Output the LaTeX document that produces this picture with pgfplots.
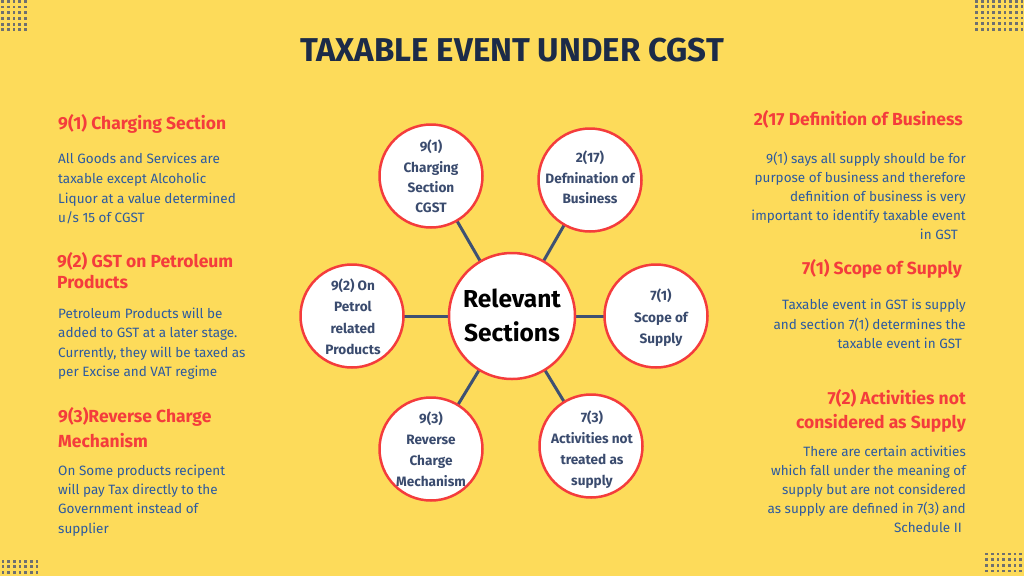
\documentclass[border=0pt]{standalone}
\usepackage{fontspec}
\setmainfont{Fira Sans}
\usepackage{pgfplots}
\pgfplotsset{compat=1.18}
\definecolor{bg}{HTML}{FDDB5A}
\definecolor{ttl}{HTML}{1C2B48}
\definecolor{hred}{HTML}{F43C3C}
\definecolor{bblue}{HTML}{2C5AA0}
\definecolor{ctext}{HTML}{3A4B6E}
\definecolor{spoke}{HTML}{3E5173}
\definecolor{dotc}{HTML}{6E7070}
\newcommand{\Hf}{\fontsize{17.5}{20}\selectfont\bfseries\color{hred}}
\newcommand{\Bf}{\fontsize{13.5}{20}\selectfont\color{bblue}}
\newcommand{\Cf}{\fontsize{13.6}{20}\selectfont\bfseries\color{ctext}}
\newcommand{\Rf}{\fontsize{24.5}{28}\selectfont\bfseries\color{black}}
\newcommand{\Lt}[4]{\node[anchor=base west,inner sep=0pt,font=#1] at (axis cs:#2,#3) {#4};}
\newcommand{\Rt}[4]{\node[anchor=base east,inner sep=0pt,font=#1] at (axis cs:#2,#3) {#4};}
\newcommand{\Ct}[4]{\node[anchor=base,inner sep=0pt,font=#1] at (axis cs:#2,#3) {#4};}
% circle line: coordinate name, downward shift (px), text
\newcommand{\Cl}[4][\Cf]{\node[anchor=base,inner sep=0pt,font=#1] at ([yshift=-#3pt]#2) {#4};}
\begin{document}
\begin{tikzpicture}
\begin{axis}[width=1024pt,height=576pt,scale only axis,
  xmin=0,xmax=1024,ymin=0,ymax=576,y dir=reverse,hide axis,clip=false]
\fill[bg] (axis cs:0,0) rectangle (axis cs:1024,576);
% corner dots
\addplot[only marks,mark=square*,mark size=0.9pt,color=dotc] coordinates {
(2.3,1)(8,1)(13.7,1)(19.3,1)(25,1)
(2.3,6.7)(8,6.7)(13.7,6.7)(19.3,6.7)(25,6.7)
(2.3,12.4)(8,12.4)(13.7,12.4)(19.3,12.4)(25,12.4)
(2.3,18.1)(8,18.1)(13.7,18.1)(19.3,18.1)(25,18.1)
(2.3,23.8)(8,23.8)(13.7,23.8)(19.3,23.8)(25,23.8)
(2.3,29.5)(8,29.5)(13.7,29.5)(19.3,29.5)(25,29.5)
(976.3,1)(982,1)(987.7,1)(993.3,1)(999,1)(1004.7,1)(1010.3,1)(1016,1)(1021.7,1)
(976.3,6.5)(982,6.5)(987.7,6.5)(993.3,6.5)(999,6.5)(1004.7,6.5)(1010.3,6.5)(1016,6.5)(1021.7,6.5)
(976.3,12)(982,12)(987.7,12)(993.3,12)(999,12)(1004.7,12)(1010.3,12)(1016,12)(1021.7,12)
(976.3,17.7)(982,17.7)(987.7,17.7)(993.3,17.7)(999,17.7)(1004.7,17.7)(1010.3,17.7)(1016,17.7)(1021.7,17.7)
(976.3,23.3)(982,23.3)(987.7,23.3)(993.3,23.3)(999,23.3)(1004.7,23.3)(1010.3,23.3)(1016,23.3)(1021.7,23.3)
(976.3,29)(982,29)(987.7,29)(993.3,29)(999,29)(1004.7,29)(1010.3,29)(1016,29)(1021.7,29)
(2.7,561)(8.3,561)(14,561)(19.7,561)(25.3,561)(31,561)(36.7,561)
(2.7,566.5)(8.3,566.5)(14,566.5)(19.7,566.5)(25.3,566.5)(31,566.5)(36.7,566.5)
(2.7,572)(8.3,572)(14,572)(19.7,572)(25.3,572)(31,572)(36.7,572)
(986.3,553.7)(992,553.7)(997.7,553.7)(1003.3,553.7)(1009,553.7)(1014.7,553.7)(1020.3,553.7)
(986.3,559.3)(992,559.3)(997.7,559.3)(1003.3,559.3)(1009,559.3)(1014.7,559.3)(1020.3,559.3)
(986.3,565)(992,565)(997.7,565)(1003.3,565)(1009,565)(1014.7,565)(1020.3,565)
(986.3,570.7)(992,570.7)(997.7,570.7)(1003.3,570.7)(1009,570.7)(1014.7,570.7)(1020.3,570.7)
};
% spokes
\addplot[no marks,color=spoke,line width=3pt] coordinates {(512,316)(431,176)};
\addplot[no marks,color=spoke,line width=3pt] coordinates {(512,316)(590,180)};
\addplot[no marks,color=spoke,line width=3pt] coordinates {(352,316)(656,316)};
\addplot[no marks,color=spoke,line width=3pt] coordinates {(512,316)(591,446)};
\addplot[no marks,color=spoke,line width=3pt] coordinates {(512,316)(431,449)};
% outer circles
\addplot[only marks,mark=*,mark size=51.5pt,mark options={fill=white,draw=hred,line width=2.5pt}] coordinates {
(431,176)(590,180)(352,316)(656,316)(591,446)(431,449)};
% centre circle
\addplot[only marks,mark=*,mark size=63pt,mark options={fill=white,draw=hred,line width=2.5pt}] coordinates {(512,316)};
% anchors for text inside circles (first baseline)
\coordinate (cR) at (axis cs:512,307);
\coordinate (c91) at (axis cs:431,152);
\coordinate (c217) at (axis cs:590,163);
\coordinate (c92) at (axis cs:353,291);
\coordinate (c71) at (axis cs:661,301);
\coordinate (c73) at (axis cs:592,422);
\coordinate (c93) at (axis cs:431,423);
% title
\Ct{\fontsize{33}{33}\selectfont\bfseries\color{ttl}}{512}{61}{TAXABLE EVENT UNDER CGST}
% left blocks
\Lt{\Hf}{58}{129}{9(1) Charging Section}
\Lt{\Bf}{58}{163}{All Goods and Services are}
\Lt{\Bf}{58}{183}{taxable except Alcoholic}
\Lt{\Bf}{58}{203}{Liquor at a value determined}
\Lt{\Bf}{58}{222}{u/s 15 of CGST}
\Lt{\Hf}{57}{267}{9(2) GST on Petroleum}
\Lt{\Hf}{57}{288}{Products}
\Lt{\Bf}{58}{318}{Petroleum Products will be}
\Lt{\Bf}{58}{337}{added to GST at a later stage.}
\Lt{\Bf}{58}{357}{Currently, they will be taxed as}
\Lt{\Bf}{58}{376}{per Excise and VAT regime}
\Lt{\Hf}{58}{422}{9(3)Reverse Charge}
\Lt{\Hf}{58}{447}{Mechanism}
\Lt{\Bf}{58}{475}{On Some products recipent}
\Lt{\Bf}{58}{494}{will pay Tax directly to the}
\Lt{\Bf}{58}{513}{Government instead of}
\Lt{\Bf}{58}{533}{supplier}
% right blocks
\Rt{\Hf}{963}{125}{2(17 Definition of Business}
\Rt{\Bf}{966}{163}{9(1) says all supply should be for}
\Rt{\Bf}{966}{182}{purpose of business and therefore}
\Rt{\Bf}{966}{201}{definition of business is very}
\Rt{\Bf}{966}{220}{important to identify taxable event}
\Rt{\Bf}{958}{239}{in GST}
\Rt{\Hf}{962}{274}{7(1) Scope of Supply}
\Rt{\Bf}{966}{309}{Taxable event in GST is supply}
\Rt{\Bf}{966}{329}{and section 7(1) determines the}
\Rt{\Bf}{962}{348}{taxable event in GST}
\Rt{\Hf}{966}{404}{7(2) Activities not}
\Rt{\Hf}{966}{428}{considered as Supply}
\Rt{\Bf}{966}{456}{There are certain activities}
\Rt{\Bf}{966}{475}{which fall under the meaning of}
\Rt{\Bf}{966}{494}{supply but are not considered}
\Rt{\Bf}{966}{513}{as supply are defined in 7(3) and}
\Rt{\Bf}{962}{532}{Schedule II}
\end{axis}
% text on top of the circles
\Cl[\Rf]{cR}{0}{Relevant}
\Cl[\Rf]{cR}{34}{Sections}
\Cl{c91}{0}{9(1)}
\Cl{c91}{21}{Charging}
\Cl{c91}{41}{Section}
\Cl{c91}{61}{CGST}
\Cl{c217}{0}{2(17)}
\Cl{c217}{21}{Defnination of}
\Cl{c217}{41}{Business}
\Cl{c92}{0}{9(2) On}
\Cl{c92}{21}{Petrol}
\Cl{c92}{42}{related}
\Cl{c92}{63}{Products}
\Cl{c71}{0}{7(1)}
\Cl{c71}{21}{Scope of}
\Cl{c71}{42}{Supply}
\Cl{c73}{0}{7(3)}
\Cl{c73}{21}{Activities not}
\Cl{c73}{42}{treated as}
\Cl{c73}{63}{supply}
\Cl{c93}{0}{9(3)}
\Cl{c93}{21}{Reverse}
\Cl{c93}{42}{Charge}
\Cl{c93}{63}{Mechanism}
\end{tikzpicture}
\end{document}
